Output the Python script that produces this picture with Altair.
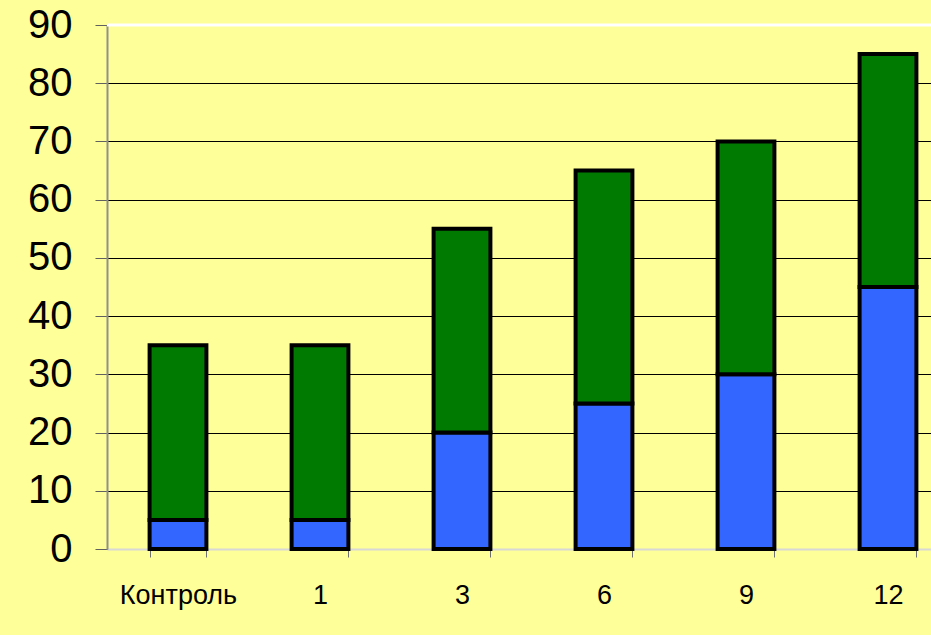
import altair as alt
import pandas as pd

categories = ["Контроль", "1", "3", "6", "9", "12"]
blue_vals = [5, 5, 20, 25, 30, 45]
green_vals = [30, 30, 35, 40, 40, 40]
series_names = ["A", "B"]
y_ticks = [0, 10, 20, 30, 40, 50, 60, 70, 80, 90]

rows = []
for c, b, g in zip(categories, blue_vals, green_vals):
    rows.append({"cat": c, "series": series_names[0], "value": b, "ord": 0})
    rows.append({"cat": c, "series": series_names[1], "value": g, "ord": 1})
df = pd.DataFrame(rows)

x_enc = alt.X(
    "cat:N",
    sort=categories,
    scale=alt.Scale(range=[0, 852], paddingInner=0.6, paddingOuter=0.3),
    axis=alt.Axis(
        title=None,
        labelAngle=0,
        labelFont="Liberation Sans",
        labelFontSize=27,
        labelColor="black",
        labelPadding=25,
        tickBand="extent",
        tickSize=8,
        tickColor="#707070",
        domainColor="#d8d8d8",
        domainWidth=2,
        grid=False,
    ),
)

bars = alt.Chart(df).mark_bar(stroke="black", strokeWidth=4).encode(
    x=x_enc,
    y=alt.Y(
        "value:Q",
        stack="zero",
        scale=alt.Scale(domain=[0, 90], nice=False),
        axis=alt.Axis(
            title=None,
            values=y_ticks,
            labelFont="Liberation Sans",
            labelFontSize=40,
            labelColor="black",
            labelPadding=23,
            tickSize=12,
            tickColor="#606060",
            domainColor="#909090",
            domainWidth=2,
            grid=True,
            gridColor="black",
            gridWidth=1,
        ),
    ),
    color=alt.Color(
        "series:N",
        scale=alt.Scale(domain=series_names, range=["#3366FF", "#007A00"]),
        legend=None,
    ),
    order=alt.Order("ord:Q"),
)

top_line = alt.Chart(pd.DataFrame({"v": [90]})).mark_rule(color="white", strokeWidth=3).encode(
    y="v:Q"
)

chart = (
    alt.layer(top_line, bars)
    .properties(
        width=824,
        height=524,
        background="#FFFF99",
        padding={"left": 107, "top": 25, "right": 0, "bottom": 86},
        autosize=alt.AutoSizeParams(type="none"),
    )
    .configure_view(stroke=None, fill="#FFFF99")
)

chart.save("out.html", embed_options={"renderer": "svg", "actions": False})
